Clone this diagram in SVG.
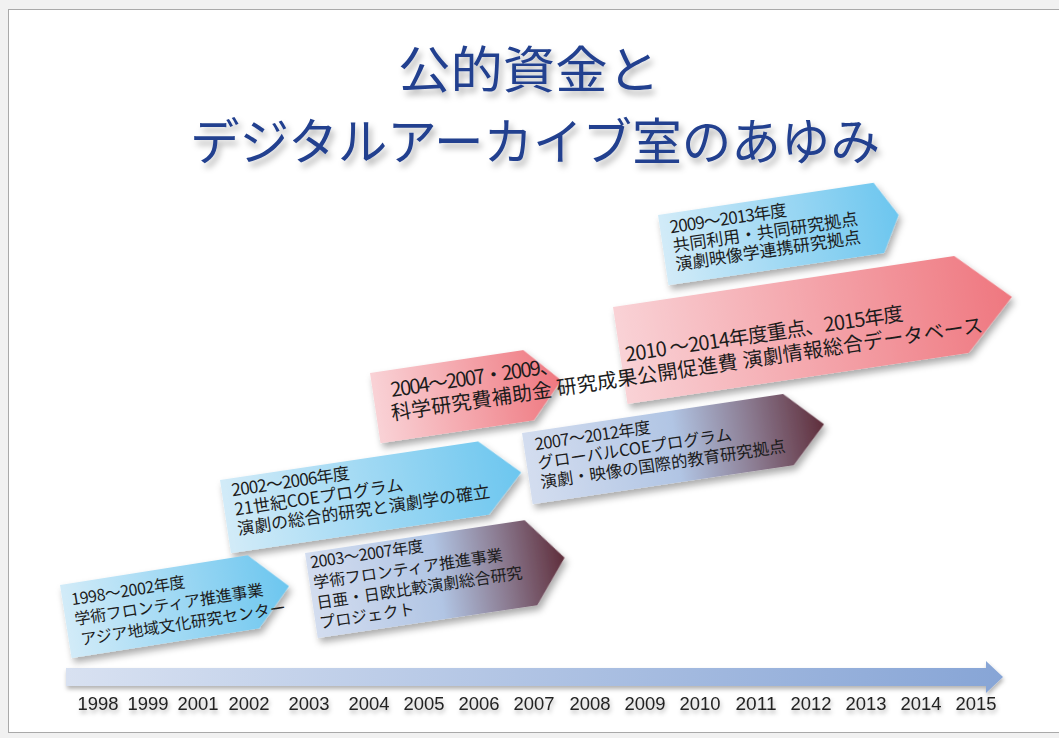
<svg xmlns="http://www.w3.org/2000/svg" width="1059" height="738" viewBox="0 0 1059 738">
  <defs>
    <linearGradient id="gBlue" x1="0" y1="0" x2="1" y2="0">
      <stop offset="0" stop-color="#d2ebf8"/>
      <stop offset="1" stop-color="#6cc6ef"/>
    </linearGradient>
    <linearGradient id="gPink" x1="0" y1="0" x2="1" y2="0">
      <stop offset="0" stop-color="#f9d2d6"/>
      <stop offset="1" stop-color="#ef777f"/>
    </linearGradient>
    <linearGradient id="gMix" x1="0" y1="0" x2="1" y2="0">
      <stop offset="0" stop-color="#d3ddef"/>
      <stop offset="0.5" stop-color="#b1c5e4"/>
      <stop offset="0.75" stop-color="#8c7d93"/>
      <stop offset="1" stop-color="#5f2e3b"/>
    </linearGradient>
    <linearGradient id="gAxis" x1="0" y1="0" x2="1" y2="0">
      <stop offset="0" stop-color="#d8e1f1"/>
      <stop offset="1" stop-color="#87a5d6"/>
    </linearGradient>
    <filter id="sh" x="-10%" y="-15%" width="130%" height="150%">
      <feDropShadow dx="2" dy="5" stdDeviation="3.5" flood-color="#000" flood-opacity="0.33"/>
    </filter>
    <filter id="tsh" x="-5%" y="-20%" width="115%" height="160%">
      <feDropShadow dx="3" dy="5" stdDeviation="3" flood-color="#000" flood-opacity="0.3"/>
    </filter>
    <filter id="ysh" x="-10%" y="-30%" width="130%" height="180%">
      <feDropShadow dx="1" dy="3" stdDeviation="2" flood-color="#000" flood-opacity="0.3"/>
    </filter>
  </defs>
  <style>
    .t { font-family: "Noto Sans CJK JP", "Noto Sans", sans-serif; fill: #1c1c1c; }
    .title { font-family: "Noto Sans CJK JP", sans-serif; font-weight: 400; fill: #24418f; font-size: 50px; }
    .yr { font-family: "Liberation Sans", "Noto Sans", sans-serif; font-size: 19px; fill: #222; text-anchor: middle; }
  </style>

  <rect x="0" y="0" width="1059" height="738" fill="#f1f1f1"/>
  <rect x="8.5" y="9.5" width="1060" height="723" fill="#ffffff" stroke="#a9a9a9" stroke-width="1"/>

  <g id="title" filter="url(#tsh)">
    <text class="title" x="398" y="88" textLength="262" lengthAdjust="spacingAndGlyphs">公的資金と</text>
    <text class="title" x="190" y="160" textLength="690" lengthAdjust="spacingAndGlyphs">デジタルアーカイブ室のあゆみ</text>
  </g>

  <g id="timeline">
    <path d="M66,668 L986,668 L986,661 L1003,677 L986,693 L986,686 L66,686 Z" fill="url(#gAxis)" filter="url(#ysh)"/>
    <g filter="url(#ysh)">
      <text class="yr" x="98" y="710" textLength="41" lengthAdjust="spacingAndGlyphs">1998</text>
      <text class="yr" x="148" y="710" textLength="41" lengthAdjust="spacingAndGlyphs">1999</text>
      <text class="yr" x="198" y="710" textLength="41" lengthAdjust="spacingAndGlyphs">2001</text>
      <text class="yr" x="249" y="710" textLength="41" lengthAdjust="spacingAndGlyphs">2002</text>
      <text class="yr" x="309" y="710" textLength="41" lengthAdjust="spacingAndGlyphs">2003</text>
      <text class="yr" x="369" y="710" textLength="41" lengthAdjust="spacingAndGlyphs">2004</text>
      <text class="yr" x="424" y="710" textLength="41" lengthAdjust="spacingAndGlyphs">2005</text>
      <text class="yr" x="479" y="710" textLength="41" lengthAdjust="spacingAndGlyphs">2006</text>
      <text class="yr" x="534" y="710" textLength="41" lengthAdjust="spacingAndGlyphs">2007</text>
      <text class="yr" x="590" y="710" textLength="41" lengthAdjust="spacingAndGlyphs">2008</text>
      <text class="yr" x="645" y="710" textLength="41" lengthAdjust="spacingAndGlyphs">2009</text>
      <text class="yr" x="700" y="710" textLength="41" lengthAdjust="spacingAndGlyphs">2010</text>
      <text class="yr" x="756" y="710" textLength="41" lengthAdjust="spacingAndGlyphs">2011</text>
      <text class="yr" x="811" y="710" textLength="41" lengthAdjust="spacingAndGlyphs">2012</text>
      <text class="yr" x="866" y="710" textLength="41" lengthAdjust="spacingAndGlyphs">2013</text>
      <text class="yr" x="921" y="710" textLength="41" lengthAdjust="spacingAndGlyphs">2014</text>
      <text class="yr" x="976" y="710" textLength="41" lengthAdjust="spacingAndGlyphs">2015</text>
    </g>
  </g>

  <g id="node-2009" transform="translate(658,215) rotate(-8.5)">
    <path d="M0,0 L218,0 L238,35.5 L218,71 L0,71 Z" fill="url(#gBlue)" filter="url(#sh)"/>
    <g class="t" font-size="17">
      <text x="10" y="20" textLength="118">2009〜2013年度</text>
      <text x="10" y="39">共同利用・共同研究拠点</text>
      <text x="10" y="57.5">演劇映像学連携研究拠点</text>
    </g>
  </g>

  <g id="node-2010" transform="translate(613,307) rotate(-8.5)">
    <path d="M0,0 L345,0 L396,49 L345,98 L0,98 Z" fill="url(#gPink)" filter="url(#sh)"/>
    <text class="t" font-size="20" x="5" y="56" textLength="281">2010 〜2014年度重点、2015年度</text>
  </g>

  <g id="node-2004" transform="translate(370,373) rotate(-8.5)">
    <path d="M0,0 L155,0 L188,35.5 L155,71 L0,71 Z" fill="url(#gPink)" filter="url(#sh)"/>
    <text class="t" font-size="20" x="18" y="27" textLength="170">2004〜2007・2009、</text>
    <text class="t" font-size="20" x="15" y="50" textLength="598">科学研究費補助金 研究成果公開促進費 演劇情報総合データベース</text>
  </g>

  <g id="node-2007" transform="translate(522,433) rotate(-8.5)">
    <path d="M0,0 L264,0 L300,36 L264,72 L0,72 Z" fill="url(#gMix)" filter="url(#sh)"/>
    <g class="t" font-size="16.5">
      <text x="11" y="19" textLength="117">2007〜2012年度</text>
      <text x="11" y="38">グローバルCOEプログラム</text>
      <text x="11" y="57.5">演劇・映像の国際的教育研究拠点</text>
    </g>
  </g>

  <g id="node-2002" transform="translate(220,480) rotate(-8.5)">
    <path d="M0,0 L261,0 L299,37 L261,74 L0,74 Z" fill="url(#gBlue)" filter="url(#sh)"/>
    <g class="t" font-size="17">
      <text x="10" y="18" textLength="119">2002〜2006年度</text>
      <text x="10" y="37.5">21世紀COEプログラム</text>
      <text x="10" y="57">演劇の総合的研究と演劇学の確立</text>
    </g>
  </g>

  <g id="node-2003" transform="translate(305,553) rotate(-8.5)">
    <path d="M0,0 L222,0 L256,43 L222,86 L0,86 Z" fill="url(#gMix)" filter="url(#sh)"/>
    <g class="t" font-size="16">
      <text x="4" y="16" textLength="114">2003〜2007年度</text>
      <text x="4" y="36.5">学術フロンティア推進事業</text>
      <text x="4" y="57">日亜・日欧比較演劇総合研究</text>
      <text x="4" y="77">プロジェクト</text>
    </g>
  </g>

  <g id="node-1998" transform="translate(60,585) rotate(-9)">
    <path d="M0,0 L190,0 L226,37 L190,74 L0,74 Z" fill="url(#gBlue)" filter="url(#sh)"/>
    <g class="t" font-size="16">
      <text x="9" y="22" textLength="115">1998〜2002年度</text>
      <text x="9" y="42">学術フロンティア推進事業</text>
      <text x="12" y="63">アジア地域文化研究センター</text>
    </g>
  </g>
</svg>
